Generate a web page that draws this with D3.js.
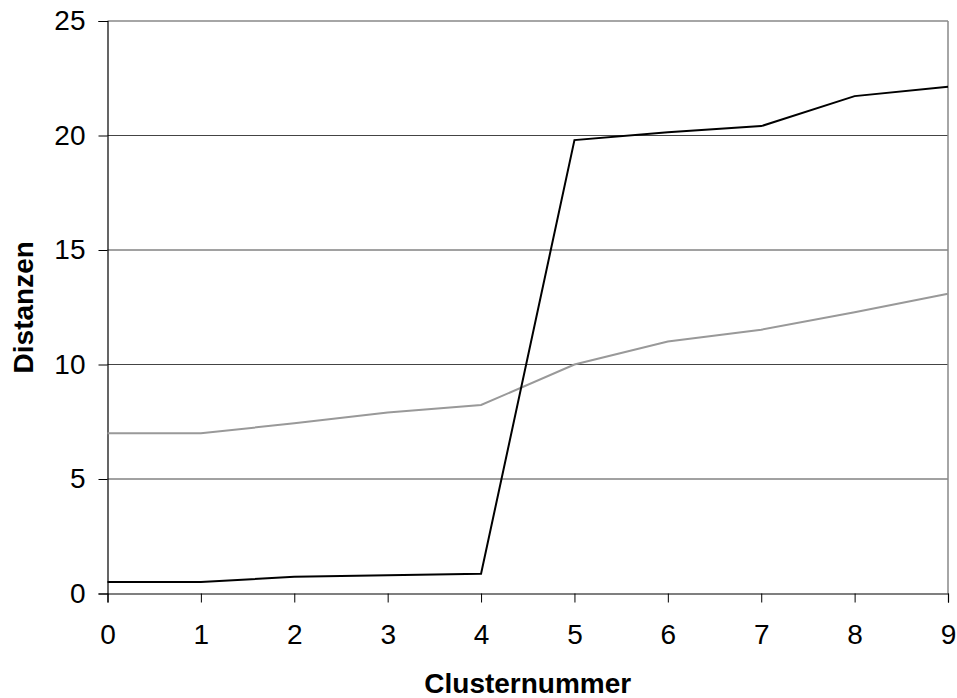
<!DOCTYPE html>
<html>
<head>
<meta charset="utf-8">
<script src="https://cdn.jsdelivr.net/npm/d3@7"></script>
<style>
  html, body { margin: 0; padding: 0; background: #fff; }
  svg { display: block; font-family: Arial, "Liberation Sans", sans-serif; }
</style>
</head>
<body>
<svg id="chart" width="957" height="698"></svg>
<script>
// Cluster numbers on the x axis
const clusters = [0, 1, 2, 3, 4, 5, 6, 7, 8, 9];
// Distance series
const distanceBlack = [0.5, 0.5, 0.73, 0.8, 0.86, 19.8, 20.14, 20.41, 21.72, 22.13];
const distanceGrey  = [7.0, 7.0, 7.43, 7.9, 8.23, 10.0, 11.0, 11.52, 12.28, 13.09];
const yTicks = [0, 5, 10, 15, 20, 25];

const svg = d3.select("#chart");
const plotLeft = 107.5, plotRight = 948, plotTop = 21, plotBottom = 593.5;
const fontFamily = "Arial, 'Liberation Sans', sans-serif";

const x = d3.scaleLinear().domain([0, 9]).range([plotLeft, plotRight]);
const y = d3.scaleLinear().domain([0, 25]).range([plotBottom, plotTop]);

// horizontal gridlines
svg.append("g").selectAll("line").data(yTicks.filter(d => d > 0 && d < 25)).join("line")
  .attr("x1", plotLeft).attr("x2", plotRight)
  .attr("y1", d => y(d)).attr("y2", d => y(d))
  .attr("stroke", "#444").attr("stroke-width", 1);

// top and right frame
svg.append("line").attr("x1", plotLeft).attr("x2", plotRight).attr("y1", y(25)).attr("y2", y(25))
  .attr("stroke", "#888").attr("stroke-width", 1.5);
svg.append("line").attr("x1", plotRight).attr("x2", plotRight).attr("y1", y(25)).attr("y2", y(0))
  .attr("stroke", "#888").attr("stroke-width", 1.5);

// y axis
const yAxis = svg.append("g").attr("transform", `translate(${plotLeft},0)`)
  .call(d3.axisLeft(y).tickValues(yTicks).tickSize(9).tickPadding(13).tickFormat(d3.format("d")));
yAxis.attr("font-size", 28).attr("font-family", fontFamily);
yAxis.select(".domain").attr("stroke", "#000").attr("stroke-width", 1.2);
yAxis.selectAll(".tick line").attr("stroke", "#000");
yAxis.selectAll("text").attr("fill", "#000");

// x axis
const xAxis = svg.append("g").attr("transform", `translate(0,${plotBottom})`)
  .call(d3.axisBottom(x).tickValues(clusters).tickSize(9).tickPadding(22).tickFormat(d3.format("d")));
xAxis.attr("font-size", 28).attr("font-family", fontFamily);
xAxis.select(".domain").attr("stroke", "#000").attr("stroke-width", 1.2);
xAxis.selectAll(".tick line").attr("stroke", "#000");
xAxis.selectAll("text").attr("fill", "#000");

const line = d3.line().x((d, i) => x(clusters[i])).y(d => y(d));

svg.append("path").datum(distanceGrey)
  .attr("d", line).attr("fill", "none").attr("stroke", "#999").attr("stroke-width", 2);
svg.append("path").datum(distanceBlack)
  .attr("d", line).attr("fill", "none").attr("stroke", "#000").attr("stroke-width", 2);

// axis titles
svg.append("text").attr("x", (plotLeft + plotRight) / 2).attr("y", 693)
  .attr("text-anchor", "middle").attr("font-size", 28).attr("font-weight", "bold")
  .attr("font-family", fontFamily)
  .text("Clusternummer");
svg.append("text").attr("transform", `translate(33,${(plotTop + plotBottom) / 2}) rotate(-90)`)
  .attr("text-anchor", "middle").attr("font-size", 28).attr("font-weight", "bold")
  .attr("font-family", fontFamily)
  .text("Distanzen");
</script>
</body>
</html>
